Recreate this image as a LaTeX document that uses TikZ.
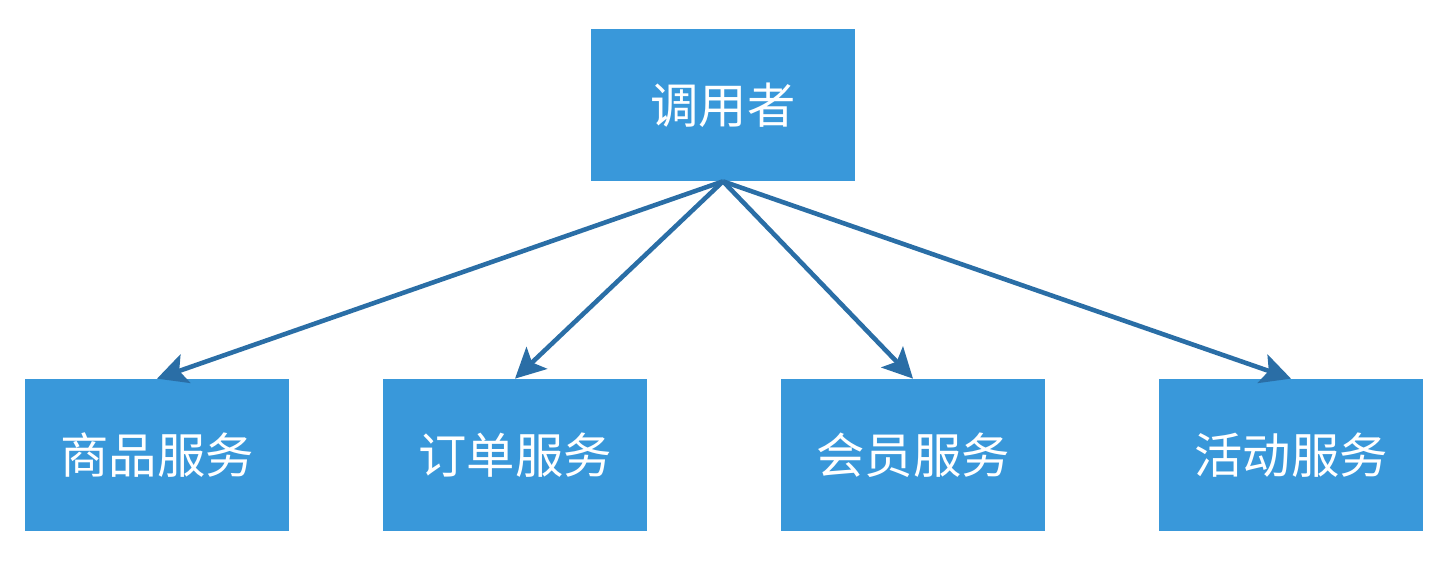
\documentclass[tikz,border=0pt]{standalone}
\usepackage{fontspec}
\newfontfamily\cjk{Noto Sans CJK SC}
\usetikzlibrary{arrows.meta, positioning}
\definecolor{boxblue}{HTML}{3998DA}
\definecolor{linkblue}{HTML}{2A6EA6}

\begin{document}
\begin{tikzpicture}[
    svc/.style={rectangle, fill=boxblue, minimum width=5.28cm, minimum height=3.04cm, inner sep=0pt, text=white, font=\cjk\fontsize{27.5}{32}\selectfont},
    arrow/.style={-{Stealth[length=6mm, width=6mm, inset=1.3mm]}, line width=2.6pt, draw=linkblue}
]
\useasboundingbox (0,0) rectangle (28.88,-11.52);

% Caller
\node[svc] (caller) at (14.46,-2.1) {调用者};

% Services
\node[svc] (goods) at (3.14,-9.1) {商品服务};
\node[svc] (order) at (10.3,-9.1) {订单服务};
\node[svc] (member) at (18.26,-9.1) {会员服务};
\node[svc] (promo) at (25.82,-9.1) {活动服务};

% Calls
\draw[arrow] (caller.south) -- (goods.north);
\draw[arrow] (caller.south) -- (order.north);
\draw[arrow] (caller.south) -- (member.north);
\draw[arrow] (caller.south) -- (promo.north);

\end{tikzpicture}
\end{document}
